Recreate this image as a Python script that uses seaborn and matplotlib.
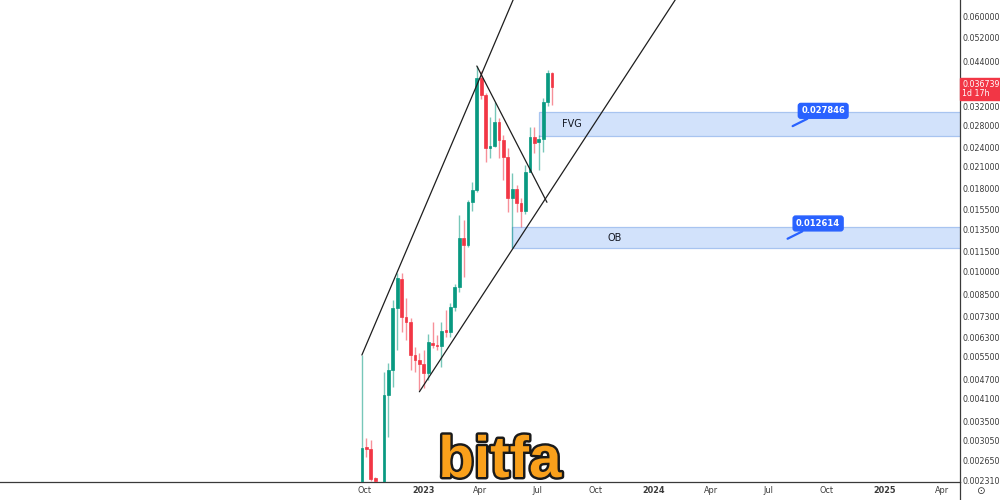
import numpy as np
import pandas as pd
import matplotlib
matplotlib.use('Agg')
import matplotlib.pyplot as plt
import matplotlib.patheffects as pe
from matplotlib.patches import Rectangle
from matplotlib.lines import Line2D
from matplotlib.ticker import NullLocator
import seaborn as sns

sns.set_theme(style='white')
plt.rcParams['font.family'] = ['DejaVu Sans']

# weekly candles
weeks = pd.date_range('2022-09-26', periods=44, freq='7D')
opens = [0.00220, 0.00292, 0.00288, 0.00234, 0.00226, 0.00206, 0.00421, 0.00501, 0.00775, 0.00950,
         0.00728, 0.00703, 0.00557, 0.00538, 0.00523, 0.00491, 0.00606, 0.00597, 0.00594, 0.00664,
         0.00655, 0.00781, 0.00898, 0.01268, 0.01207, 0.01634, 0.01777, 0.03907, 0.03467, 0.02388,
         0.02424, 0.02868, 0.02526, 0.02241, 0.01680, 0.01790, 0.01622, 0.01530, 0.02017, 0.02580,
         0.02490, 0.02550, 0.03300, 0.04050]
highs = [0.00557, 0.00311, 0.00307, 0.00236, 0.00227, 0.00494, 0.00526, 0.00820, 0.00992, 0.00992,
         0.00832, 0.00720, 0.00590, 0.00566, 0.00577, 0.00647, 0.00703, 0.00640, 0.00700, 0.00765,
         0.00801, 0.00915, 0.01490, 0.01442, 0.01660, 0.01880, 0.04251, 0.04096, 0.03520, 0.02970,
         0.03310, 0.02950, 0.02610, 0.02390, 0.02000, 0.01840, 0.01680, 0.02120, 0.02770, 0.02770,
         0.02610, 0.03400, 0.04120, 0.04070]
lows = [0.00210, 0.00272, 0.00229, 0.00225, 0.00195, 0.00200, 0.00313, 0.00445, 0.00577, 0.00655,
        0.00619, 0.00501, 0.00494, 0.00436, 0.00443, 0.00466, 0.00587, 0.00577, 0.00513, 0.00633,
        0.00633, 0.00760, 0.00865, 0.00964, 0.01190, 0.01537, 0.01750, 0.03360, 0.02164, 0.02220,
        0.02400, 0.02220, 0.01900, 0.01520, 0.01180, 0.01520, 0.01370, 0.01500, 0.02010, 0.02300,
        0.02040, 0.02320, 0.03200, 0.03220]
closes = [0.00290, 0.00288, 0.00233, 0.00229, 0.00205, 0.00421, 0.00501, 0.00775, 0.00958, 0.00728,
          0.00703, 0.00557, 0.00538, 0.00523, 0.00491, 0.00610, 0.00597, 0.00594, 0.00660, 0.00655,
          0.00781, 0.00898, 0.01268, 0.01207, 0.01634, 0.01777, 0.03907, 0.03467, 0.02388, 0.02424,
          0.02868, 0.02526, 0.02241, 0.01680, 0.01790, 0.01622, 0.01530, 0.02017, 0.02580, 0.02480,
          0.02550, 0.03300, 0.04050, 0.036739]

price_ticks = [0.060, 0.052, 0.044, 0.038, 0.032, 0.028, 0.024, 0.021, 0.018, 0.0155, 0.0135,
               0.0115, 0.010, 0.0085, 0.0073, 0.0063, 0.0055, 0.0047, 0.0041, 0.0035, 0.00305,
               0.00265, 0.00231]
x_ticks = ['2022-10-01', '2023-01-01', '2023-04-01', '2023-07-01', '2023-10-01', '2024-01-01',
           '2024-04-01', '2024-07-01', '2024-10-01', '2025-01-01', '2025-04-01']
x_tick_labels = ['Oct', '2023', 'Apr', 'Jul', 'Oct', '2024', 'Apr', 'Jul', 'Oct', '2025', 'Apr']

# zones
fvg_start, fvg_low, fvg_high = '2023-07-03', 0.0260, 0.0308
ob_start, ob_low, ob_high = '2023-05-22', 0.0118, 0.0137
fvg_tag_date, fvg_tag = '2024-08-08', 0.027846
ob_tag_date, ob_tag = '2024-07-31', 0.012614
fvg_text_date, ob_text_date = '2023-08-24', '2023-10-31'

# trend lines (two anchor points each)
upper_dates, upper_vals = ['2022-09-26', '2023-06-26'], [0.00557, 0.096]
lower_dates, lower_vals = ['2022-12-26', '2024-02-04'], [0.0043, 0.0676]
down_dates, down_vals = ['2023-03-27', '2023-07-16'], [0.0425, 0.0163]

last_price = closes[-1]
countdown = '1d 17h'

GREEN, RED, BLUE = '#089981', '#f23645', '#2962ff'
AXC = '#3a3a3a'

fig = plt.figure(figsize=(10, 5), dpi=100)
ax = fig.add_axes([0, 0.036, 0.96, 0.964])
ax.set_yscale('log')

df = pd.DataFrame({'date': weeks, 'open': opens, 'high': highs, 'low': lows, 'close': closes})
up = df['close'] >= df['open']
colors = np.where(up, GREEN, RED)
ax.vlines(df['date'], df['low'], df['high'], colors=colors, linewidth=1, alpha=0.55, zorder=3)
body_lo = df[['open', 'close']].min(axis=1)
body_hi = df[['open', 'close']].max(axis=1)
ax.bar(df['date'], body_hi - body_lo, bottom=body_lo, width=4.3, color=colors,
       edgecolor=colors, linewidth=0.5, zorder=4)

# zones
far_end = pd.Timestamp('2026-06-01')
for start, lo, hi in [(fvg_start, fvg_low, fvg_high), (ob_start, ob_low, ob_high)]:
    s = pd.Timestamp(start)
    ax.add_patch(Rectangle((s, lo), far_end - s, hi - lo, facecolor='#d2e2fb',
                           edgecolor='#a8c4f0', linewidth=0.9, zorder=2))
ax.text(pd.Timestamp(fvg_text_date), np.sqrt(fvg_low * fvg_high), 'FVG', ha='center',
        va='center', fontsize=7, color='#131722', zorder=5)
ax.text(pd.Timestamp(ob_text_date), np.sqrt(ob_low * ob_high), 'OB', ha='center',
        va='center', fontsize=7, color='#131722', zorder=5)

for day, val in [(fvg_tag_date, fvg_tag), (ob_tag_date, ob_tag)]:
    ax.annotate(f'{val:.6f}', xy=(pd.Timestamp(day), val), xytext=(22, 11),
                textcoords='offset points', ha='center', va='center', fontsize=6,
                fontweight='bold', color='white', zorder=6,
                bbox=dict(boxstyle='round,pad=0.35,rounding_size=0.3', fc=BLUE, ec=BLUE),
                arrowprops=dict(arrowstyle='-', color=BLUE, lw=1.6, shrinkA=0, shrinkB=0))

# trend lines
for d, v in [(upper_dates, upper_vals), (lower_dates, lower_vals), (down_dates, down_vals)]:
    sns.lineplot(x=pd.to_datetime(d), y=v, ax=ax, color='#1e1e1e', linewidth=0.9, zorder=5)

ax.set_xlim(pd.Timestamp('2021-03-02'), pd.Timestamp('2025-04-30'))
ax.set_ylim(0.00228, 0.0676)

ax.yaxis.tick_right()
ax.set_yticks(price_ticks)
ax.set_yticklabels([f'{v:.6f}' for v in price_ticks])
ax.yaxis.set_minor_locator(NullLocator())
ax.tick_params(axis='y', length=0, pad=1.5, labelsize=5.7, colors=AXC)

ax.set_xticks(pd.to_datetime(x_ticks))
ax.set_xticklabels(x_tick_labels)
ax.tick_params(axis='x', length=0, pad=3, labelsize=5.9, colors=AXC)
for lab in ax.get_xticklabels():
    if lab.get_text().isdigit():
        lab.set_fontweight('bold')

for side in ['top', 'left']:
    ax.spines[side].set_visible(False)
for side in ['right', 'bottom']:
    ax.spines[side].set_color(AXC)
    ax.spines[side].set_linewidth(0.9)
ax.grid(False)

# last price tag on the price scale
ax.annotate(f'{last_price:.6f}\n{countdown}', xy=(1.0, last_price),
            xycoords=ax.get_yaxis_transform(), xytext=(1.5, 5), textcoords='offset points',
            ha='left', va='top', fontsize=5.7, color='white', linespacing=1.1,
            annotation_clip=False, zorder=10,
            bbox=dict(boxstyle='square,pad=0.25', fc=RED, ec=RED))

fig.add_artist(Line2D([0.96, 0.96], [0, 0.036], color=AXC, lw=0.9, transform=fig.transFigure))
fig.text(0.98, 0.017, '\u2299', ha='center', va='center', fontsize=7.5, color=AXC)

# watermark logo
fig.text(0.5, 0.046, 'bitfa', ha='center', va='baseline', fontsize=42, fontweight='bold',
         family=['Liberation Sans', 'DejaVu Sans'], color='#f9a01b', zorder=20,
         path_effects=[pe.Stroke(linewidth=3.5, foreground='#1a1a1a'), pe.Normal()])

fig.savefig('out.png', dpi=100, facecolor='white')
